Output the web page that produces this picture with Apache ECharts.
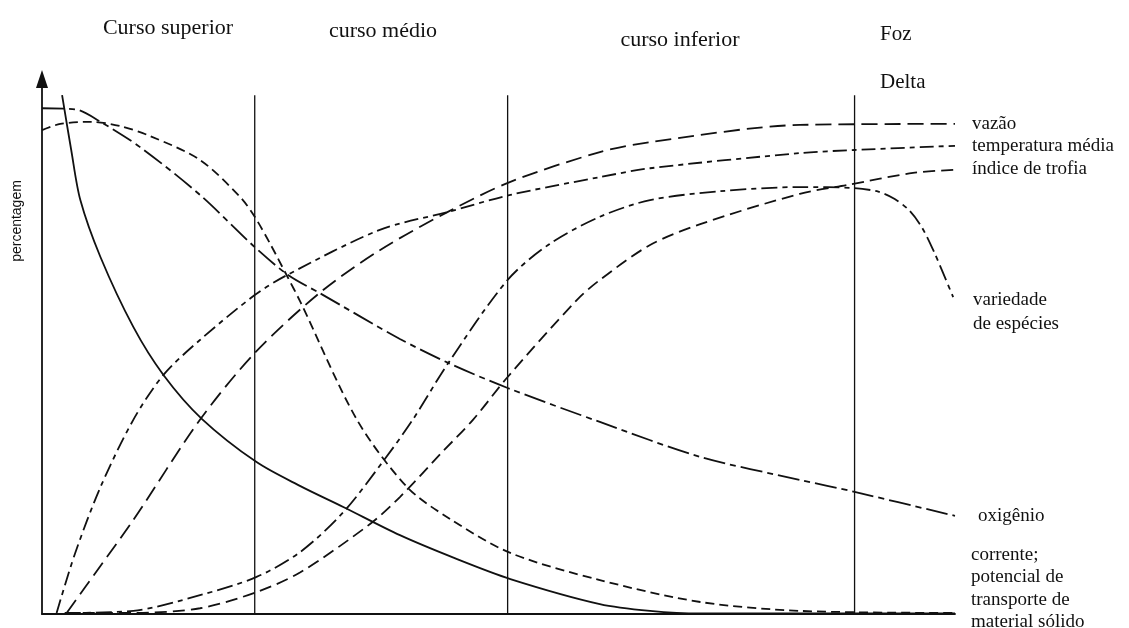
<!DOCTYPE html>
<html>
<head>
<meta charset="utf-8">
<script src="https://cdn.jsdelivr.net/npm/echarts@6/dist/echarts.min.js"></script>
<style>
html,body{margin:0;padding:0;background:#fff;}
#c{width:1129px;height:628px;}
</style>
</head>
<body>
<div id="c"></div>
<script>
// Values: x = distance along the river (0-100), y = percentagem (0-100)
const corrente = [[2.2,99.4],[3.2,88.9],[4.2,79.3],[6.4,68.4],[10.0,55.0],[13.3,45.8],[17.5,37.4],[23.5,29.1],[28.3,24.5],[33.0,20.5],[39.2,15.1],[45.2,10.7],[51.3,6.7],[61.1,1.9],[66.6,0.6],[72.1,0.1],[100,0.1]];
const potencialTransporte = [[0,92.7],[2.0,93.9],[5.3,94.3],[8.5,93.5],[11.8,91.6],[17.3,87.0],[21.7,79.9],[23.3,76.1],[25.0,70.9],[26.8,64.9],[28.3,59.8],[34.5,37.2],[40.0,24.3],[44.7,18.2],[51.3,11.7],[61.1,6.5],[72.1,2.3],[83.0,0.6],[100,0.2]];
const oxigenio = [[0,96.9],[3.6,96.7],[6.4,94.3],[10.7,89.5],[17.3,80.3],[23.3,70.3],[27.0,64.9],[30.4,61.5],[39.2,52.7],[44.5,48.1],[51.0,43.3],[61.1,36.8],[72.1,30.1],[83.0,25.7],[89.0,23.4],[100,18.8]];
const vazao = [[2.7,0.2],[6.4,9.2],[10.0,18.0],[17.3,37.2],[23.3,50.0],[30.4,61.5],[37.0,69.7],[44.4,77.0],[51.3,82.8],[61.1,88.5],[66.6,90.4],[83.0,93.7],[100,93.9]];
const temperaturaMedia = [[1.6,0.2],[3.6,11.5],[6.4,24.3],[10.0,37.2],[13.3,45.8],[17.3,52.5],[23.3,61.1],[26.8,64.9],[37.0,73.6],[44.4,77.0],[51.3,80.3],[61.1,83.7],[66.6,85.4],[83.0,88.3],[89.0,88.9],[100,89.7]];
const indiceTrofia = [[2.5,0.2],[10.0,0.2],[17.3,1.1],[23.5,4.2],[28.3,8.0],[35.9,17.2],[39.2,22.4],[43.6,30.6],[47.2,37.2],[51.0,45.4],[58.6,60.2],[61.1,64.0],[66.6,70.7],[72.1,74.7],[83.0,80.5],[88.2,82.2],[95.4,84.5],[100,85.1]];
const variedadeEspecies = [[2.5,0.2],[10.0,0.6],[17.3,3.6],[23.5,7.1],[28.3,11.9],[33.0,19.5],[37.3,29.1],[40.6,37.2],[44.5,48.1],[51.0,64.0],[55.6,70.9],[61.1,76.1],[66.6,79.3],[74.3,81.0],[83.0,81.8],[89.0,81.6],[91.6,80.9],[93.4,79.5],[95.0,77.3],[96.4,74.0],[97.8,69.0],[99.8,60.7]];
const divisores = [23.3, 51.0, 89.0];
const divisorTopo = 99.4;

const ink = '#111';
function curve(name, data, dash, w) {
  return {
    name: name, type: 'line', data: data, showSymbol: false, silent: true,
    smooth: 0.3,
    lineStyle: { color: ink, width: w || 1.8, type: dash, cap: 'butt' },
    z: 3
  };
}
const series = [
  curve('corrente', corrente, 'solid'),
  curve('potencial de transporte de material sólido', potencialTransporte, [9, 5]),
  curve('oxigênio', oxigenio, [22, 5, 6, 5]),
  curve('vazão', vazao, [16, 7]),
  curve('temperatura média', temperaturaMedia, [14, 5, 5, 5]),
  curve('índice de trofia', indiceTrofia, [12, 6]),
  curve('variedade de espécies', variedadeEspecies, [16, 5, 5, 5])
];
divisores.forEach(function (x, i) {
  series.push({
    name: 'div' + i, type: 'line', data: [[x, 0], [x, divisorTopo]], showSymbol: false, silent: true,
    lineStyle: { color: ink, width: 1.3, type: 'solid' }, z: 2
  });
});

const serif = '"Liberation Serif","Times New Roman",serif';
function txt(text, x, y, size, align) {
  return { type: 'text', x: x, y: y, silent: true,
    style: { text: text, font: size + 'px ' + serif, fill: ink, textAlign: align || 'left', textVerticalAlign: 'middle' } };
}

const chart = echarts.init(document.getElementById('c'), null, { renderer: 'canvas' });
chart.setOption({
  animation: false,
  backgroundColor: '#fff',
  grid: { left: 42, right: 174, top: 79, bottom: 14 },
  xAxis: {
    type: 'value', min: 0, max: 100,
    axisLine: { show: true, lineStyle: { color: ink, width: 1.8 } },
    axisTick: { show: false }, axisLabel: { show: false }, splitLine: { show: false }
  },
  yAxis: {
    type: 'value', min: 0, max: 102.5,
    axisLine: { show: true, symbol: ['none', 'triangle'], symbolSize: [12, 18], lineStyle: { color: ink, width: 1.8 } },
    axisTick: { show: false }, axisLabel: { show: false }, splitLine: { show: false }
  },
  series: series,
  graphic: [
    txt('Curso superior', 168, 28, 22, 'center'),
    txt('curso médio', 383, 31, 22, 'center'),
    txt('curso inferior', 680, 40, 22, 'center'),
    txt('Foz', 880, 34, 21),
    txt('Delta', 880, 82, 21),
    txt('vazão', 972, 124, 19),
    txt('temperatura média', 972, 146, 19),
    txt('índice de trofia', 972, 169, 19),
    txt('variedade', 973, 300, 19),
    txt('de espécies', 973, 324, 19),
    txt('oxigênio', 978, 516, 19),
    txt('corrente;', 971, 555, 19),
    txt('potencial de', 971, 577, 19),
    txt('transporte de', 971, 600, 19),
    txt('material sólido', 971, 622, 19),
    { type: 'text', x: 17, y: 221, rotation: Math.PI / 2, silent: true,
      style: { text: 'percentagem', font: '14px "Liberation Sans",Arial,sans-serif', fill: ink, textAlign: 'center', textVerticalAlign: 'middle' } }
  ]
});
</script>
</body>
</html>
